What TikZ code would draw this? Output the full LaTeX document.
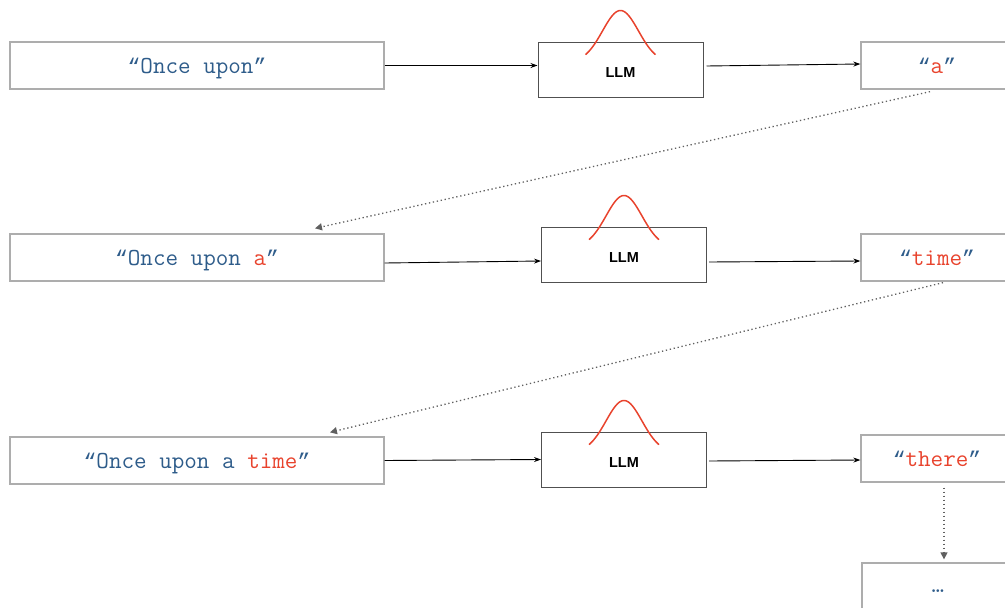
\documentclass[tikz,border=0pt]{standalone}
\usepackage{fontspec}
\newfontfamily\sansf{Liberation Sans}
\newfontfamily\qf{Liberation Mono}
\newcommand\opq{{\qf\fontsize{21.3}{24}\selectfont “}}
\newcommand\clq{{\qf\fontsize{21.3}{24}\selectfont ”}}
\newcommand\lowr[2]{\raisebox{-#1}[\height][\depth]{#2}}
\usetikzlibrary{arrows.meta,calc}
\definecolor{tblue}{HTML}{2E5C8A}
\definecolor{tred}{HTML}{E8432D}
\definecolor{boxgray}{HTML}{ADADAD}
\definecolor{llmgray}{HTML}{505050}
\definecolor{dotgray}{HTML}{606060}
\begin{document}
\begin{tikzpicture}[x=1pt,y=-1pt,
 txtbox/.style={draw=boxgray,line width=1.3pt,minimum height=47pt,inner sep=0pt,font=\ttfamily\fontsize{24.4}{24}\selectfont,text=tblue},
 llmbox/.style={draw=llmgray,line width=1pt,minimum width=165pt,minimum height=55pt,inner sep=0pt,font=\sansf\bfseries\fontsize{14.5}{14}\selectfont},
 flow/.style={-{Stealth[length=7pt,width=5pt]},line width=0.9pt},
 back/.style={dotgray,line width=1.3pt,dash pattern=on 1.3pt off 2.7pt,-{Triangle[length=7pt,width=7pt]}},
 bell/.style={tred,line width=1.5pt}]
\useasboundingbox (0,0) rectangle (1005,608);
\clip (0,0) rectangle (1005,608);
% row 1
\node[txtbox,minimum width=374pt] (i1) at (197,65.5) {\lowr{2.5pt}{\opq Once upon\clq}};
\node[llmbox] (l1) at (620.5,69.5) {\lowr{3.5pt}{LLM}};
\node[txtbox,minimum width=152pt] (o1) at (937,65.5) {\lowr{0.5pt}{\opq\textcolor{tred}{a}\clq}};
% row 2
\node[txtbox,minimum width=374pt] (i2) at (197,257.5) {\lowr{2.5pt}{\opq Once upon \textcolor{tred}{a}\clq}};
\node[llmbox] (l2) at (624,254.5) {\lowr{3.5pt}{LLM}};
\node[txtbox,minimum width=152pt] (o2) at (937,257.5) {\lowr{0.5pt}{\opq\textcolor{tred}{time}\clq}};
% row 3
\node[txtbox,minimum width=374pt] (i3) at (197,460.5) {\lowr{2.5pt}{\opq Once upon a \textcolor{tred}{time}\clq}};
\node[llmbox] (l3) at (624,459.5) {\lowr{3.5pt}{LLM}};
\node[txtbox,minimum width=152pt] (o3) at (937,458.5) {\lowr{0.5pt}{\opq\textcolor{tred}{there}\clq}};
% ellipsis
\node[txtbox,minimum width=152pt,minimum height=50pt] (e) at (938,588) {\lowr{3pt}{…}};
% bells
\foreach \n in {l1,l2,l3}{
  \begin{scope}[shift={(\n.north)}]
    \draw[bell] plot[domain=-35:35,samples=50,smooth] ({\x},{-31+52*(1-exp(-0.5*(\x/18)^2))});
  \end{scope}
}
% forward arrows
\draw[flow] (i1.east) -- ([yshift=4pt]l1.west);
\draw[flow] ([xshift=3pt,yshift=3.5pt]l1.east) -- ([yshift=1.5pt]o1.west);
\draw[flow] ([yshift=-5.5pt]i2.east) -- ([yshift=-6.5pt]l2.west);
\draw[flow] ([xshift=2pt,yshift=-7.5pt]l2.east) -- ([yshift=-3.5pt]o2.west);
\draw[flow] (i3.east) -- (l3.west);
\draw[flow] ([xshift=2pt,yshift=-1.5pt]l3.east) -- ([yshift=-1.5pt]o3.west);
% feedback arrows
\draw[back] ([xshift=-7pt,yshift=-2pt]o1.south) -- ([xshift=118pt,yshift=5pt]i2.north);
\draw[back] ([xshift=6pt,yshift=-1pt]o2.south) -- ([xshift=133pt,yshift=4pt]i3.north);
\draw[back] ([xshift=7pt,yshift=-5pt]o3.south) -- ([xshift=6pt,yshift=3pt]e.north);
\end{tikzpicture}
\end{document}
